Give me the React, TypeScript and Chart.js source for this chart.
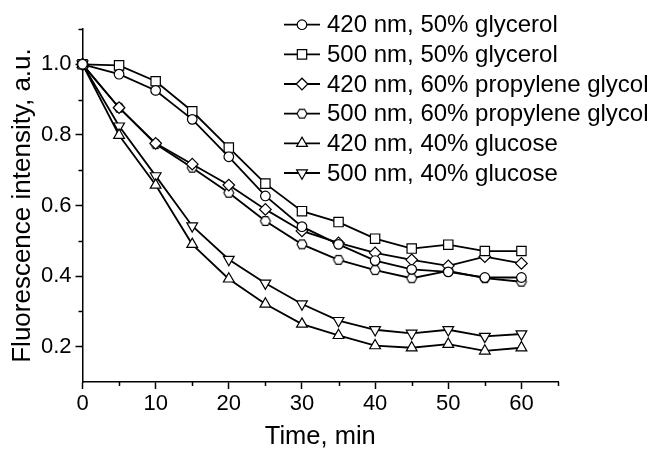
import React, { useEffect, useRef } from 'react';
import { Chart, registerables } from 'chart.js';
import { drawPoint } from 'chart.js/helpers';

Chart.register(...registerables);

const TIME = [0, 5, 10, 15, 20, 25, 30, 35, 40, 45, 50, 55, 60];
const GLYCEROL_420 = [1.0, 0.972, 0.926, 0.844, 0.738, 0.627, 0.540, 0.490, 0.444, 0.419, 0.412, 0.396, 0.396];
const GLYCEROL_500 = [1.0, 0.997, 0.952, 0.867, 0.764, 0.662, 0.584, 0.553, 0.506, 0.478, 0.489, 0.471, 0.471];
const PROPYLENE_420 = [1.0, 0.877, 0.776, 0.717, 0.658, 0.589, 0.528, 0.494, 0.466, 0.446, 0.429, 0.455, 0.436];
const PROPYLENE_500 = [1.0, 0.877, 0.774, 0.707, 0.636, 0.556, 0.490, 0.446, 0.417, 0.394, 0.415, 0.394, 0.384];
const GLUCOSE_420 = [1.0, 0.799, 0.658, 0.490, 0.392, 0.321, 0.264, 0.232, 0.203, 0.197, 0.207, 0.188, 0.197];
const GLUCOSE_500 = [1.0, 0.825, 0.684, 0.542, 0.447, 0.380, 0.321, 0.274, 0.248, 0.238, 0.248, 0.229, 0.236];

const LABELS = [
  '420 nm, 50% glycerol',
  '500 nm, 50% glycerol',
  '420 nm, 60% propylene glycol',
  '500 nm, 60% propylene glycol',
  '420 nm, 40% glucose',
  '500 nm, 40% glucose',
];

const X_TITLE = 'Time, min';
const Y_TITLE = 'Fluorescence intensity, a.u.';
const FONT = '"Liberation Sans", Arial, sans-serif';

function makeHexagon(r: number): HTMLCanvasElement {
  const size = Math.ceil(2 * r + 4);
  const c = document.createElement('canvas');
  c.width = size;
  c.height = size;
  const ctx = c.getContext('2d')!;
  const cx = size / 2;
  const cy = size / 2;
  ctx.beginPath();
  for (let k = 0; k < 6; k++) {
    const a = k * (Math.PI / 3);
    const px = cx + r * Math.cos(a);
    const py = cy + r * Math.sin(a);
    if (k === 0) ctx.moveTo(px, py);
    else ctx.lineTo(px, py);
  }
  ctx.closePath();
  ctx.fillStyle = '#fff';
  ctx.fill();
  ctx.lineWidth = 1.1;
  ctx.strokeStyle = '#000';
  ctx.stroke();
  return c;
}

const minorTicksPlugin = {
  id: 'minorTicks',
  afterDraw(chart: any) {
    const ctx = chart.ctx;
    const xs = chart.scales.x;
    const ys = chart.scales.y;
    ctx.save();
    ctx.strokeStyle = '#000';
    ctx.lineWidth = 1.5;
    for (let v = 5; v <= 65; v += 10) {
      const px = Math.round(xs.getPixelForValue(v)) + 0.5;
      ctx.beginPath();
      ctx.moveTo(px, xs.top);
      ctx.lineTo(px, xs.top + 4);
      ctx.stroke();
    }
    for (let n = 3; n <= 11; n += 2) {
      const py = Math.round(ys.getPixelForValue(n / 10)) + 0.5;
      ctx.beginPath();
      ctx.moveTo(ys.right - 4, py);
      ctx.lineTo(ys.right, py);
      ctx.stroke();
    }
    ctx.restore();
  },
};

const legendPlugin = {
  id: 'customLegend',
  afterDraw(chart: any) {
    const ctx = chart.ctx;
    ctx.save();
    chart.data.datasets.forEach((ds: any, i: number) => {
      const y = 24.7 + i * 29.66;
      ctx.strokeStyle = '#000';
      ctx.lineWidth = 1.8;
      ctx.beginPath();
      ctx.moveTo(284, y);
      ctx.lineTo(320, y);
      ctx.stroke();
      ctx.fillStyle = '#fff';
      ctx.strokeStyle = '#000';
      ctx.lineWidth = 1.2;
      drawPoint(ctx, {
        pointStyle: ds.pointStyle,
        rotation: ds.pointRotation || 0,
        radius: ds.pointRadius,
        borderWidth: 1.2,
      } as any, 302, y);
      ctx.fillStyle = '#000';
      ctx.font = `24px ${FONT}`;
      ctx.textAlign = 'left';
      ctx.textBaseline = 'middle';
      ctx.fillText(ds.label, 327, y + 1);
    });
    ctx.restore();
  },
};

export default function App() {
  const ref = useRef<HTMLCanvasElement | null>(null);

  useEffect(() => {
    if (!ref.current) return;
    const hex = makeHexagon(5);
    const base = {
      borderColor: '#000',
      borderWidth: 1.8,
      pointBackgroundColor: '#fff',
      pointBorderColor: '#000',
      pointBorderWidth: 1.2,
      pointHoverRadius: 0,
      fill: false,
      tension: 0,
      clip: false as any,
    };
    const series = [GLYCEROL_420, GLYCEROL_500, PROPYLENE_420, PROPYLENE_500, GLUCOSE_420, GLUCOSE_500];
    const styles: any[] = [
      { pointStyle: 'circle', pointRadius: 4.8 },
      { pointStyle: 'rect', pointRadius: 6.6 },
      { pointStyle: 'rectRot', pointRadius: 5.8 },
      { pointStyle: hex, pointRadius: 5 },
      { pointStyle: 'triangle', pointRadius: 6.2 },
      { pointStyle: 'triangle', pointRadius: 6.2, pointRotation: 180 },
    ];
    const datasets = series.map((s, i) => ({
      ...base,
      ...styles[i],
      label: LABELS[i],
      data: TIME.map((t, k) => ({ x: t, y: s[k] })),
    }));

    const chart = new Chart(ref.current, {
      type: 'line',
      data: { datasets },
      plugins: [minorTicksPlugin, legendPlugin],
      options: {
        animation: false,
        responsive: true,
        maintainAspectRatio: false,
        layout: { padding: { left: 0, top: 29, right: 90, bottom: 0 } },
        plugins: { legend: { display: false }, tooltip: { enabled: false } },
        scales: {
          x: {
            type: 'linear',
            min: 0,
            max: 65,
            afterFit: (s: any) => { s.height = 69; },
            ticks: {
              stepSize: 5,
              autoSkip: false,
              maxRotation: 0,
              padding: 2,
              color: '#000',
              font: { family: FONT, size: 22 },
              callback: (v: any) => (Number(v) % 10 === 0 ? String(v) : ''),
            },
            grid: {
              drawOnChartArea: false,
              drawTicks: true,
              tickLength: 7,
              tickWidth: 1.5,
              tickColor: (c: any) => (c.tick && c.tick.value % 10 === 0 ? '#000' : 'rgba(0,0,0,0)'),
            },
            border: { color: '#000', width: 1.5 },
            title: {
              display: true,
              text: X_TITLE,
              color: '#000',
              font: { family: FONT, size: 25.5 },
              padding: { top: 0, bottom: -1.3 },
            },
          },
          y: {
            type: 'linear',
            min: 0.1,
            max: 1.1,
            afterFit: (s: any) => { s.width = 82.5; },
            ticks: {
              stepSize: 0.1,
              autoSkip: false,
              padding: 4,
              color: '#000',
              font: { family: FONT, size: 22 },
              callback: (v: any) => {
                const n = Math.round(Number(v) * 10);
                return n % 2 === 0 && n >= 2 && n <= 10 ? (n / 10).toFixed(1) : '';
              },
            },
            grid: {
              drawOnChartArea: false,
              drawTicks: true,
              tickLength: 7,
              tickWidth: 1.5,
              tickColor: (c: any) => {
                if (!c.tick) return 'rgba(0,0,0,0)';
                const n = Math.round(c.tick.value * 10);
                return n % 2 === 0 && n >= 2 && n <= 10 ? '#000' : 'rgba(0,0,0,0)';
              },
            },
            border: { color: '#000', width: 1.5 },
            title: {
              display: true,
              text: Y_TITLE,
              color: '#000',
              font: { family: FONT, size: 26 },
              padding: { top: 7.7, bottom: 0 },
            },
          },
        },
      } as any,
    });
    return () => chart.destroy();
  }, []);

  return (
    <div style={{ position: 'absolute', left: 0, top: 0, width: 648, height: 451 }}>
      <canvas ref={ref} />
    </div>
  );
}
